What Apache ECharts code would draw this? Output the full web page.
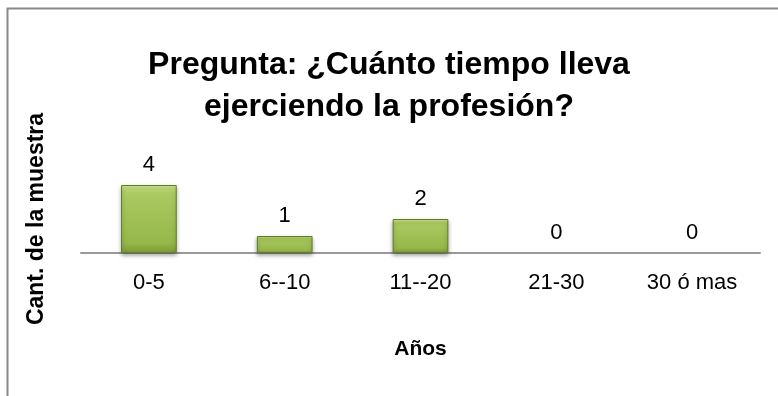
<!DOCTYPE html>
<html><head><meta charset="utf-8">
<script src="https://cdn.jsdelivr.net/npm/echarts@6/dist/echarts.min.js"></script>
<style>html,body{margin:0;padding:0;background:#fff}#c{width:778px;height:396px}</style>
</head><body><div id="c"></div>
<script>
const titleText = "Pregunta: ¿Cuánto tiempo lleva\nejerciendo la profesión?";
const categories = ["0-5", "6--10", "11--20", "21-30", "30 ó mas"];
const values = [4, 1, 2, 0, 0];
const xAxisName = "Años";
const yAxisName = "Cant. de la muestra";

const font = "Liberation Sans, Arial, sans-serif";
const chart = echarts.init(document.getElementById('c'));
chart.setOption({
  animation: false,
  backgroundColor: '#fff',
  graphic: [{
    type: 'rect', shape: {x: 7.5, y: 8.5, width: 800, height: 420},
    style: {fill: 'none', stroke: '#888', lineWidth: 2}
  }],
  title: {
    text: titleText, left: 'center', top: 39,
    textStyle: {fontFamily: font, fontWeight: 'bold', fontSize: 32, lineHeight: 42, color: '#000'}
  },
  grid: {left: 81, right: 18, top: 185, bottom: 143},
  xAxis: {
    type: 'category', data: categories,
    axisLine: {lineStyle: {color: '#999', width: 2}},
    axisTick: {show: false},
    axisLabel: {fontFamily: font, fontSize: 22, color: '#000', margin: 19},
    name: xAxisName, nameLocation: 'middle', nameGap: 86,
    nameTextStyle: {fontFamily: font, fontWeight: 'bold', fontSize: 21, color: '#000'}
  },
  yAxis: {
    type: 'value', min: 0, max: 4,
    axisLine: {show: false}, axisTick: {show: false}, axisLabel: {show: false},
    splitLine: {show: false},
    name: yAxisName, nameLocation: 'middle', nameRotate: 90, nameGap: 33,
    nameTextStyle: {fontFamily: font, fontWeight: 'bold', fontSize: 23, color: '#000'}
  },
  series: [{
    type: 'bar', barWidth: '41%',
    data: values.map(v => v === 0
      ? {value: v, itemStyle: {color: 'rgba(0,0,0,0)', borderWidth: 0, shadowBlur: 0, shadowColor: 'rgba(0,0,0,0)'}}
      : {value: v}),
    itemStyle: {
      color: new echarts.graphic.LinearGradient(0, 0, 0, 1, [
        {offset: 0, color: '#d2eb92'},
        {offset: 0.12, color: '#abca62'},
        {offset: 0.85, color: '#96b74a'},
        {offset: 1, color: '#7c9b35'}
      ]),
      borderColor: '#5f7d25', borderWidth: 1,
      shadowColor: 'rgba(0,0,0,0.35)', shadowBlur: 4, shadowOffsetY: 2
    },
    label: {show: true, position: 'top', distance: 9, fontFamily: font, fontSize: 22, color: '#000'}
  }]
});
</script></body></html>
